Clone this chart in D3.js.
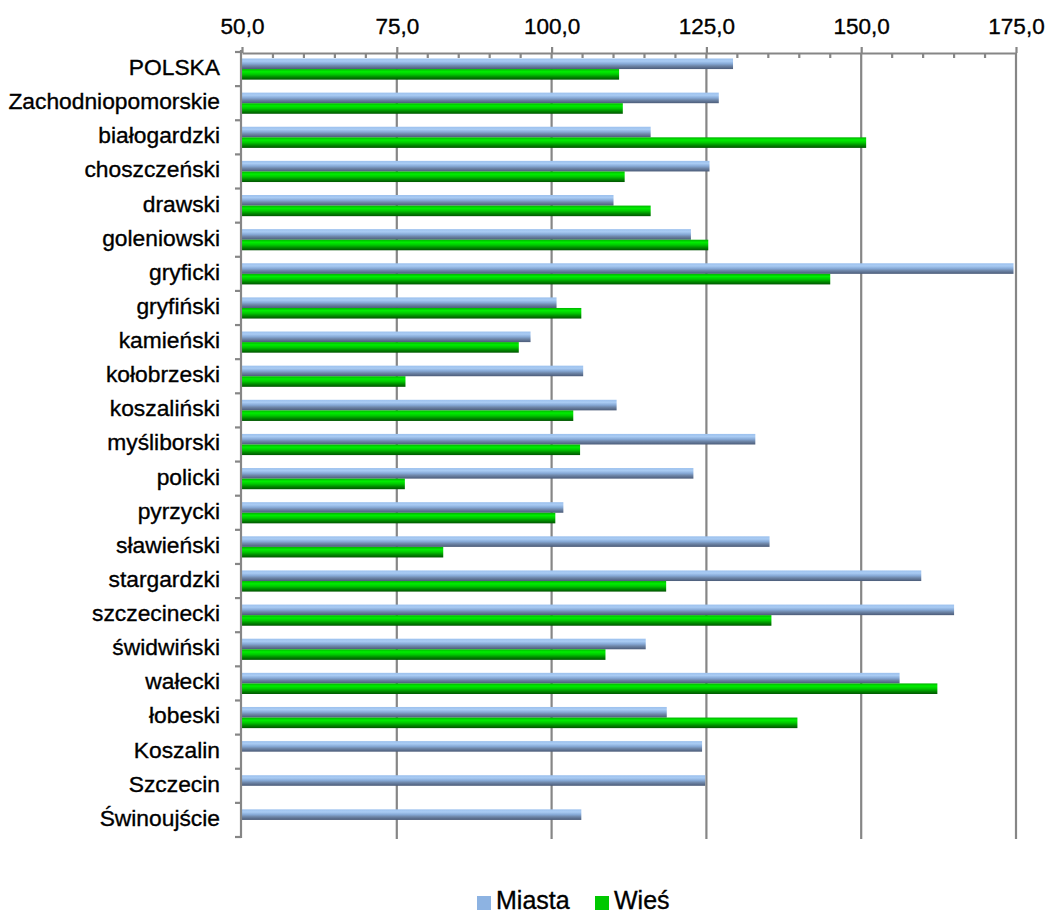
<!DOCTYPE html>
<html>
<head>
<meta charset="utf-8">
<script src="https://cdn.jsdelivr.net/npm/d3@7"></script>
<style>
  html, body { margin: 0; padding: 0; background: #fff; }
  svg { display: block; font-family: "Liberation Sans", Arial, sans-serif; }
</style>
</head>
<body>
<svg id="chart" width="1045" height="915"></svg>
<script>
const categories = ["POLSKA","Zachodniopomorskie","białogardzki","choszczeński","drawski","goleniowski","gryficki","gryfiński","kamieński","kołobrzeski","koszaliński","myśliborski","policki","pyrzycki","sławieński","stargardzki","szczecinecki","świdwiński","wałecki","łobeski","Koszalin","Szczecin","Świnoujście"];
const miasta = [129.3,127.0,116.0,125.5,110.0,122.5,174.6,100.8,96.6,105.1,110.5,132.9,122.9,101.9,135.2,159.7,165.0,115.2,156.2,118.6,124.3,124.8,104.8];
const wies   = [110.9,111.5,150.8,111.8,116.0,125.3,145.0,104.8,94.7,76.4,103.5,104.6,76.3,100.6,82.5,118.5,135.5,108.7,162.3,139.7,null,null,null];
const seriesNames = ["Miasta","Wieś"];
const xTicks = [50,75,100,125,150,175];

(function(){
const svg = d3.select("#chart");
const pLeft = 242, pRight = 1016, pTop = 53, pBottom = 837;

const x = d3.scaleLinear().domain([50,175]).range([pLeft,pRight]);
const y = d3.scaleBand().domain(categories).range([52,pBottom]).paddingInner(0.38).paddingOuter(0.19);
const ys = d3.scaleBand().domain(seriesNames).range([0,y.bandwidth()]);

const locale = d3.formatLocale({decimal:",", thousands:" ", grouping:[3], currency:["","zł"]});
const fmt = locale.format(".1f");

// gradients
const defs = svg.append("defs");
const gradStops = {
  Miasta: [[0,"#9cc1ee"],[0.25,"#a9cbf3"],[0.5,"#86a9d6"],[0.7,"#6e86a8"],[1,"#4b5b78"]],
  "Wieś": [[0,"#00b400"],[0.25,"#00ee00"],[0.5,"#00c800"],[0.75,"#008a00"],[1,"#005400"]]
};
seriesNames.forEach((s,i)=>{
  const g = defs.append("linearGradient").attr("id","g"+i).attr("x1",0).attr("x2",0).attr("y1",0).attr("y2",1);
  gradStops[s].forEach(st=>g.append("stop").attr("offset",st[0]).attr("stop-color",st[1]));
});

// gridlines
svg.append("g").selectAll("line").data(xTicks.slice(1)).join("line")
  .attr("x1",d=>x(d)).attr("x2",d=>x(d)).attr("y1",pTop).attr("y2",pBottom+2)
  .attr("stroke","#868686").attr("stroke-width",2.2);

// minor ticks (inward)
svg.append("g").selectAll("line").data(d3.range(55,175,5).filter(v=>v%25!==0)).join("line")
  .attr("x1",d=>x(d)).attr("x2",d=>x(d)).attr("y1",pTop).attr("y2",pTop+5)
  .attr("stroke","#868686").attr("stroke-width",2.2);

// top axis
const xAxis = svg.append("g").attr("transform",`translate(0,${pTop})`)
  .call(d3.axisTop(x).tickValues(xTicks).tickFormat(fmt).tickSize(6).tickPadding(13).tickSizeOuter(0));
xAxis.select(".domain").attr("stroke","#868686").attr("stroke-width",2.2);
xAxis.selectAll(".tick line").attr("stroke","#868686").attr("stroke-width",2.2);
xAxis.selectAll(".tick text").attr("font-size",22.5).attr("fill","#000")
  .attr("stroke","#000").attr("stroke-width",0.35)
  .attr("font-family","'Liberation Sans', Arial, sans-serif");

// bars
const rows = svg.append("g").selectAll("g").data(categories).join("g")
  .attr("transform",d=>`translate(0,${y(d)})`);
rows.selectAll("rect").data((d,i)=>seriesNames.map((s,j)=>({s, j, v: j===0?miasta[i]:wies[i]})).filter(e=>e.v!=null))
  .join("rect")
  .attr("x",x(50)).attr("y",e=>ys(e.s))
  .attr("width",e=>x(e.v)-x(50)).attr("height",ys.bandwidth())
  .attr("fill",e=>`url(#g${e.j})`);

// left axis line and boundary ticks
const step = y.step();
const bounds = d3.range(categories.length+1).map(i=>y(categories[0]) - y.paddingInner()*step/2 + i*step);
svg.append("line").attr("x1",pLeft-1).attr("x2",pLeft-1).attr("y1",pTop-3).attr("y2",pBottom+1)
  .attr("stroke","#868686").attr("stroke-width",2.2);
svg.append("g").selectAll("line").data(bounds).join("line")
  .attr("x1",pLeft-7).attr("x2",pLeft-1).attr("y1",d=>d).attr("y2",d=>d)
  .attr("stroke","#868686").attr("stroke-width",2.2);

// category labels
const yAxis = svg.append("g").attr("transform",`translate(${pLeft},0)`)
  .call(d3.axisLeft(y).tickSize(0).tickPadding(22));
yAxis.select(".domain").remove();
yAxis.selectAll(".tick text").attr("font-size",22.8).attr("fill","#000").attr("dy","0.26em")
  .attr("stroke","#000").attr("stroke-width",0.35)
  .attr("font-family","'Liberation Sans', Arial, sans-serif");

// legend
const legend = svg.append("g");
const legendItems = [{name:"Miasta", color:"#8db3e2", x:477},{name:"Wieś", color:"#00c800", x:595}];
legendItems.forEach((it)=>{
  legend.append("rect").attr("x",it.x).attr("y",896).attr("width",14).attr("height",14).attr("fill",it.color);
  legend.append("text").attr("x",it.x+19).attr("y",909).attr("font-size",25).attr("fill","#000")
    .attr("stroke","#000").attr("stroke-width",0.35).text(it.name);
});
})();
</script>
</body>
</html>
